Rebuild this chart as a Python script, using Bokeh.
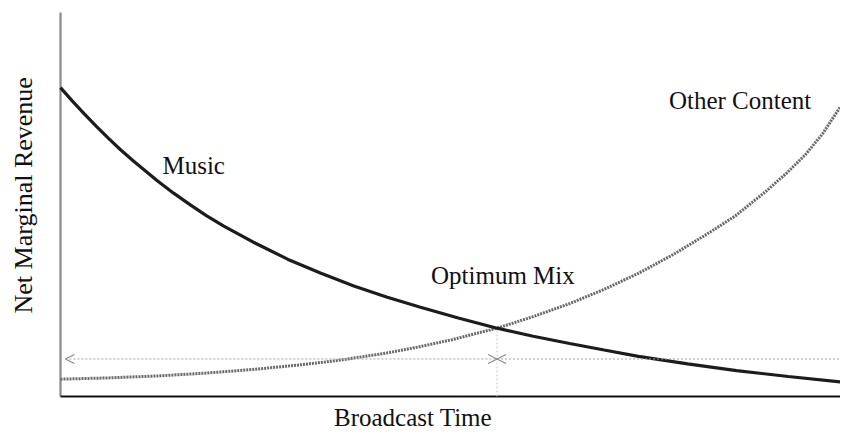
import math
from bokeh.plotting import figure
from bokeh.models import Range1d, Label, Arrow, OpenHead
from bokeh.embed import file_html
from bokeh.resources import INLINE

# ---- data (x: broadcast time 0-100, y: net marginal revenue 0-100) ----
music_x = [0, 1.5, 3.02, 4.6, 6.16, 7.7, 9.31, 10.9, 12.45, 14.5, 16.6, 18.7, 20.88, 25.0,
           29.18, 33.4, 37.61, 41.8, 46.04, 51.0, 55.97, 60.6, 65.28, 69.7, 74.09, 80.4,
           86.67, 93.3, 100]
music_y = [80.45, 77.0, 73.66, 70.35, 67.22, 64.25, 61.39, 58.7, 56.11, 52.95, 49.97, 47.1,
           44.41, 39.9, 35.7, 32.1, 28.79, 25.9, 23.3, 20.45, 17.79, 15.7, 13.79, 12.1,
           10.45, 8.5, 6.75, 5.2, 3.82]

other_x = [0, 6.2, 12.45, 18.7, 25.03, 30.3, 35.47, 41.76, 45.9, 50.19, 55.97, 60.6, 65.28,
           69.7, 74.09, 78.5, 82.89, 86.5, 90.19, 93.0, 95.47, 97.7, 100]
other_y = [4.51, 4.85, 5.35, 6.1, 7.1, 8.15, 9.35, 11.3, 12.9, 14.8, 17.79, 20.8, 24.2,
           27.9, 32.08, 36.9, 42.3, 47.0, 53.0, 58.0, 62.9, 68.4, 75.5]

optimum_x = 55.97
optimum_y = 17.79
arrow_y = 9.77
arrow_left = 0.63
arrow_right = 103

axis_x_max = 100
axis_y_max = 100

FONT = "Liberation Serif"
FS = "25px"
TXT = "#111111"

p = figure(width=840, height=431, output_backend="svg", toolbar_location=None,
           x_range=Range1d(-7.692, 100), y_range=Range1d(-9.115, 103.125),
           x_axis_location=None, y_axis_location=None,
           min_border_left=0, min_border_right=0, min_border_top=0, min_border_bottom=0)
p.outline_line_color = None
p.xgrid.visible = False
p.ygrid.visible = False
p.background_fill_color = "white"
p.border_fill_color = "white"

# axis lines
p.segment(x0=[0], y0=[0], x1=[0], y1=[axis_y_max], line_color="#8a8a8a", line_width=2.2)
p.segment(x0=[0], y0=[0], x1=[axis_x_max], y1=[0], line_color="#111111", line_width=2)

# optimum vertical guide
p.segment(x0=[optimum_x], y0=[0], x1=[optimum_x], y1=[optimum_y],
          line_color="#c8c8c8", line_width=1, line_dash="2 2")

# double arrows
head = dict(size=9, line_color="#8a8a8a", line_width=1.2)
p.add_layout(Arrow(x_start=arrow_left, y_start=arrow_y, x_end=optimum_x, y_end=arrow_y,
                   start=OpenHead(**head), end=OpenHead(**head),
                   line_color="#a0a0a0", line_width=1, line_dash="2 2"))
p.add_layout(Arrow(x_start=optimum_x, y_start=arrow_y, x_end=arrow_right, y_end=arrow_y,
                   start=OpenHead(**head), end=OpenHead(**head),
                   line_color="#a0a0a0", line_width=1, line_dash="2 2"))

# curves
p.line(other_x, other_y, line_color="#6a6a6a", line_width=3, line_dash="2 1")
p.line(music_x, music_y, line_color="#1c1c1c", line_width=3.2)

# texts
def lab(x, y, t, size=FS, **kw):
    p.add_layout(Label(x=x, y=y, text=t, text_font=FONT, text_font_size=size,
                       text_color=TXT, **kw))

lab(13.07, 60.2, "Music", text_align="left", text_baseline="alphabetic")
lab(47.5, 31.4, "Optimum Mix", text_align="left", text_baseline="alphabetic")
lab(78.0, 77.0, "Other Content", text_align="left", text_baseline="alphabetic")
lab(45.2, -8.9, "Broadcast Time", text_align="center", text_baseline="bottom")
lab(-4.68, 52.4, "Net Marginal Revenue", size="26px", text_align="center",
    text_baseline="middle", angle=math.pi / 2)

open("out.html", "w").write(file_html(p, INLINE))
